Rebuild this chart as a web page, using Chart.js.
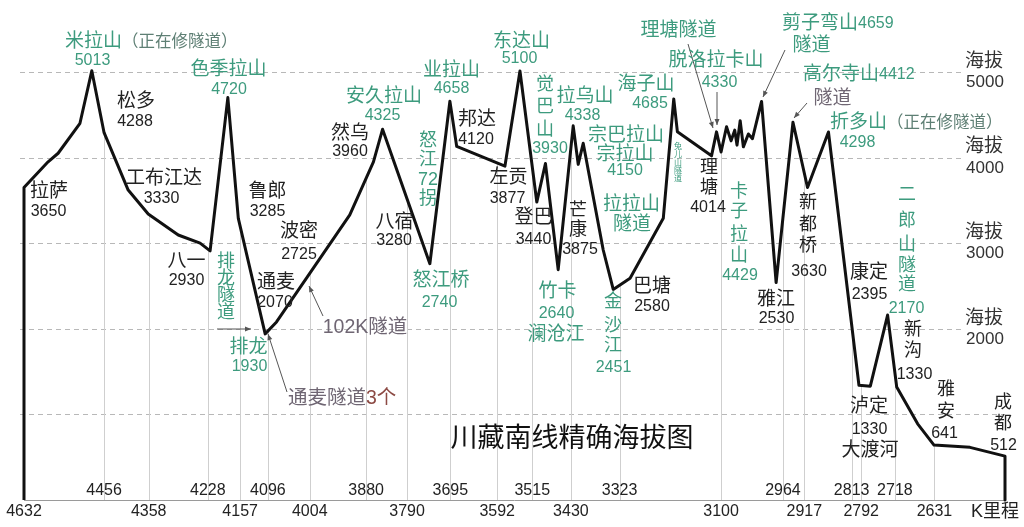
<!DOCTYPE html>
<html><head><meta charset="utf-8">
<script src="https://cdn.jsdelivr.net/npm/chart.js@4.4.0/dist/chart.umd.min.js"></script>
<style>html,body{margin:0;padding:0;background:#fff;}canvas{display:block;}</style>
</head><body>
<canvas id="c" width="1024" height="527"></canvas>
<script>
// ---- DATA ----
// K mileage markers along the route (km) and elevation (m) of each profile vertex
const profileKm = [4632,4632,4579,4557,4509,4483,4456,4403,4359,4293,4245,4223,4184,4161,4102,4077,
  3916,3864,3844,3740,3696,3681,3575,3542,3505,3486,3458,3425,3414,3403,3359,3337,3300,3227,3204,3196,
  3121,3110,3100,3088,3078,3070,3065,3058,3051,3040,3031,3011,2979,2942,2910,2864,2797,2772,2734,2714,
  2668,2632,2553,2476,2476];
const profileElev = [0,3650,3950,4050,4400,5013,4290,3620,3340,3095,3000,2910,4700,3290,1940,2080,
  3330,3950,4330,2760,4658,4130,3900,5010,3480,3930,2690,4370,3920,4166,2920,2460,2590,3290,4685,4300,
  4020,4300,4065,4360,4195,4320,4145,4430,4125,4275,4220,4655,2540,4412,3650,4298,1340,1330,2160,1320,
  890,641,615,512,0];
const tickRowUpper = [4456,4228,4096,3880,3695,3515,3323,2964,2813,2718];
const tickRowLower = [4632,4358,4157,4004,3790,3592,3430,3100,2917,2792,2631];
const elevLevels = [1000,2000,3000,4000,5000];
const elevLabelLevels = [2000,3000,4000,5000];
const kmMin = 2476, kmMax = 4632, elevMax = 5840;

// ---- STYLE / LAYOUT ----
const G='#3d9b7e', K='#222', P='#6f6673', R='#8c4a44', Q='#5e7f74';
const FONT = '"Liberation Sans","Noto Sans CJK SC",sans-serif';
const TXT = [
 ['5013',92.5,61,16,G],['色季拉山',228.5,70,19,G],['4720',229,90,16,G],
 ['松多',136,102,19,K],['4288',135,122,16,K],['拉萨',49,192,19,K],['3650',48.5,212,16,K],
 ['工布江达',164,179,19,K],['3330',161.5,199,16,K],['鲁郎',267.5,192,19,K],['3285',267.5,212,16,K],
 ['波密',299,232,19,K],['2725',299,255,16,K],['八一',186.5,262,19,K],['2930',186.5,281,16,K],
 ['排龙',248.5,348,19,G],['1930',249.5,367,16,G],['通麦',276,283,19,K],['2070',275,303,16,K],
 ['102K隧道',365,328,19.5,P],['然乌',350,134,19,K],['3960',350,152,16,K],
 ['安久拉山',384,97,19,G],['4325',382.5,116,16,G],['业拉山',451.5,71,19,G],['4658',451.5,89,16,G],
 ['邦达',477,120,19,K],['4120',476,140,16,K],['八宿',394.5,223,19,K],['3280',394,241,16,K],
 ['怒江桥',441,281,19,G],['2740',439.5,303,16,G],['东达山',521.5,42,19,G],['5100',519.5,59,16,G],
 ['3930',550,149,16,G],['拉乌山',585,97,19,G],['4338',582.5,116,16,G],
 ['宗巴拉山',626,136,19,G],['宗拉山',625,155,19,G],['4150',625,171,16,G],
 ['左贡',508.5,178,19,K],['3877',507.5,199,16,K],['登巴',533.5,218,19,K],['3440',533.5,240,16,K],
 ['3875',580,250,16,K],['拉拉山',631.5,205,19,G],['隧道',632,225,19,G],
 ['竹卡',557.5,292,19,G],['2640',556.5,314,16,G],['澜沧江',556,335,19,G],['2451',613.5,368,16,G],
 ['巴塘',652,287,19,K],['2580',652,307,16,K],['海子山',646,85,19,G],['4685',650,104,16,G],
 ['理塘隧道',678.5,31,19,G],['脱洛拉卡山',716,61,19,G],['4330',719.5,83,16,G],
 ['4014',708,208,16,K],['4429',740,276,16,G],['隧道',811.5,46,19,G],['隧道',832.5,99,19,P],
 ['4298',857.5,143,16,G],['3630',809,272,16,K],['雅江',776,299.5,19,K],['2530',776.5,318.5,16,K],
 ['康定',869,273,19,K],['2395',869.5,295,16,K],['2170',906.5,308.5,16,G],['1330',914.5,375,16,K],
 ['泸定',869,407,19,K],['1330',869.5,430,16,K],['大渡河',870,451,19,K],
 ['641',944.5,434,16,K],['512',1003.5,446,16,K],
 ['川藏南线精确海拔图',572,440,27,'#111'],['K里程',995,512,18,K]
];
const SEG = [
 [65,42,[['米拉山',19,G],['（正在修隧道）',16.5,Q]]],
 [782,23.5,[['剪子弯山',19,G],['4659',16,G]]],
 [803,75,[['高尔寺山',19,G],['4412',16,G]]],
 [830,123,[['折多山',19,G],['（正在修隧道）',16.5,Q]]],
 [288,399,[['通麦隧道',19.5,P],['3个',19.5,R]]]
];
const VTXT = [
 [['排','龙','隧','道'],226,[262,279,296,313],18,G],
 [['怒','江','72','拐'],428,[141.5,160,180.5,199],18,G],
 [['觉','巴','山'],545,[85.5,107.5,130.5],18,G],
 [['芒','康'],578,[211.5,230.5],18,K],
 [['金','沙','江'],613,[302.5,326,346.5],18,G],
 [['理','塘'],709,[168.5,188.5],18,K],
 [['卡','子','拉','山'],739,[192.5,212.5,235,256.5],18,G],
 [['新','都','桥'],808,[203.5,225,246.5],18,K],
 [['二','郎','山','隧','道'],907,[195.5,221.5,245,266.5,285.5],18,G],
 [['新','沟'],913,[330,351.5],18,K],
 [['雅','安'],946,[390.5,412.5],18,K],
 [['成','都'],1003,[403.5,424.5],18,K],
 [['兔','儿','山','隧','道'],678,[147,155,163,171,179],8,G]
];
const ARROWS = [[217,329,251,329],[323,316,309,286],[287,392,268,334],[688,44,713,128],
 [717,92,717,125],[785,50,763,97],[807,103,794,118]];

function elevAt(k){
  let best = null;
  for(let i=0;i<profileKm.length-1;i++){
    const a=profileKm[i], b=profileKm[i+1];
    if(a===b) continue;
    if((k<=a && k>=b)||(k>=a && k<=b)){
      const t=(k-a)/(b-a);
      const e=profileElev[i]+t*(profileElev[i+1]-profileElev[i]);
      if(best===null||e>best) best=e;
    }
  }
  return best===null?0:best;
}

const decor = {
  id:'decor',
  beforeDatasetsDraw(chart){
    const {ctx, chartArea:ca} = chart;
    const xs=chart.scales.x, ys=chart.scales.y;
    ctx.save();
    ctx.lineWidth=1;
    ctx.strokeStyle='#b8b8b8';
    ctx.setLineDash([5,4]);
    elevLevels.forEach(v=>{
      const y=Math.round(ys.getPixelForValue(v))+0.5;
      ctx.beginPath(); ctx.moveTo(20,y); ctx.lineTo(v>=2000?962:ca.right,y); ctx.stroke();
    });
    ctx.setLineDash([]);
    ctx.strokeStyle='#cfcfcf';
    const bottom=ys.getPixelForValue(0);
    tickRowUpper.concat(tickRowLower).forEach(k=>{
      if(k===kmMax) return;
      const x=Math.round(xs.getPixelForValue(k))+0.5;
      const top=ys.getPixelForValue(elevAt(k));
      ctx.beginPath(); ctx.moveTo(x,top); ctx.lineTo(x,bottom); ctx.stroke();
    });
    ctx.strokeStyle='#9a9a9a';
    ctx.beginPath(); ctx.moveTo(ca.left,Math.round(bottom)+0.5); ctx.lineTo(ca.right,Math.round(bottom)+0.5); ctx.stroke();
    ctx.restore();
  },
  afterDatasetsDraw(chart){
    const {ctx} = chart;
    const xs=chart.scales.x, ys=chart.scales.y;
    ctx.save();
    ctx.textBaseline='middle';
    ctx.textAlign='center';
    const bottom=ys.getPixelForValue(0);
    ctx.fillStyle='#222';
    ctx.font='16px '+FONT;
    tickRowUpper.forEach(k=>ctx.fillText(String(k),xs.getPixelForValue(k),bottom-9));
    tickRowLower.forEach(k=>ctx.fillText(String(k),xs.getPixelForValue(k),bottom+12));
    elevLabelLevels.forEach(v=>{
      const y=ys.getPixelForValue(v);
      ctx.font='19px '+FONT; ctx.fillStyle='#333';
      ctx.fillText('海拔',984,y-10.5);
      ctx.font='17px '+FONT;
      ctx.fillText(String(v),985,y+10.5);
    });
    ctx.strokeStyle='#555'; ctx.fillStyle='#555'; ctx.lineWidth=1;
    ARROWS.forEach(([x1,y1,x2,y2])=>{
      ctx.beginPath(); ctx.moveTo(x1,y1); ctx.lineTo(x2,y2); ctx.stroke();
      const a=Math.atan2(y2-y1,x2-x1), L=6, W=2.5;
      ctx.beginPath();
      ctx.moveTo(x2,y2);
      ctx.lineTo(x2-L*Math.cos(a)+W*Math.sin(a), y2-L*Math.sin(a)-W*Math.cos(a));
      ctx.lineTo(x2-L*Math.cos(a)-W*Math.sin(a), y2-L*Math.sin(a)+W*Math.cos(a));
      ctx.closePath(); ctx.fill();
    });
    TXT.forEach(([t,x,y,s,c])=>{ctx.font=s+'px '+FONT; ctx.fillStyle=c; ctx.fillText(t,x,y);});
    ctx.textAlign='left';
    SEG.forEach(([x,y,parts])=>{
      let cx=x;
      parts.forEach(([t,s,c])=>{ctx.font=s+'px '+FONT; ctx.fillStyle=c; ctx.fillText(t,cx,y); cx+=ctx.measureText(t).width;});
    });
    ctx.textAlign='center';
    VTXT.forEach(([chars,x,yList,s,c])=>{
      ctx.font=s+'px '+FONT; ctx.fillStyle=c;
      chars.forEach((ch,i)=>ctx.fillText(ch,x,yList[i]));
    });
    ctx.restore();
  }
};

new Chart(document.getElementById('c'),{
  type:'scatter',
  data:{datasets:[{
    data: profileKm.map((k,i)=>({x:k,y:profileElev[i]})),
    showLine:true, borderColor:'#111', borderWidth:3, pointRadius:0, pointHoverRadius:0,
    tension:0, borderJoinStyle:'round', clip:false
  }]},
  options:{
    responsive:false, animation:false, devicePixelRatio:1,
    layout:{padding:{left:24,right:19,top:0,bottom:27}},
    plugins:{legend:{display:false},tooltip:{enabled:false}},
    events:[],
    scales:{
      x:{type:'linear',min:kmMin,max:kmMax,reverse:true,display:false},
      y:{type:'linear',min:0,max:elevMax,display:false}
    }
  },
  plugins:[decor]
});
</script>
</body></html>
